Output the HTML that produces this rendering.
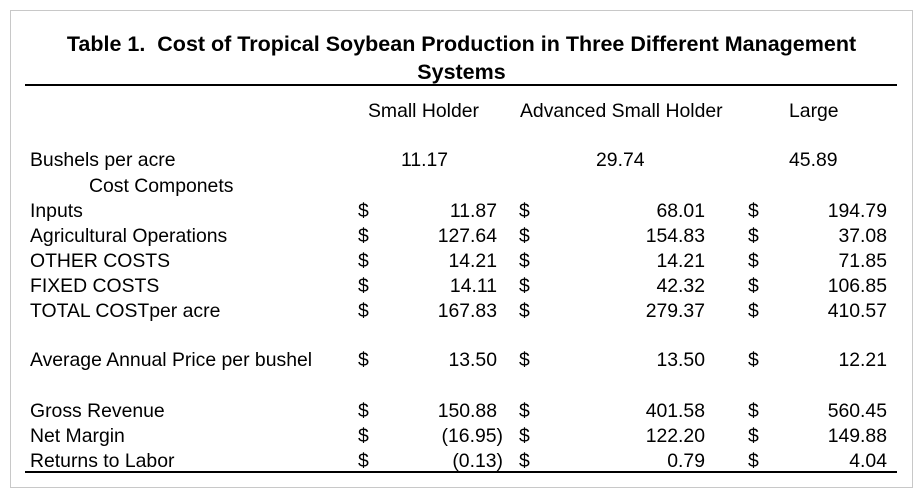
<!DOCTYPE html>
<html><head><meta charset="utf-8"><style>
body{margin:0;width:923px;height:498px;background:#fff;position:relative;overflow:hidden;font-family:"Liberation Sans",Arial,sans-serif;color:#000}
.frame{position:absolute;left:10px;top:10px;width:901px;height:476px;border:1px solid #c8c8c8}
.t{position:absolute;font-size:19.4px;line-height:20px;white-space:nowrap}
.r{text-align:right}
.title{position:absolute;left:0;width:923px;text-align:center;font-weight:bold;font-size:21.5px;line-height:28px}
.hl{position:absolute;left:25px;width:872px;height:2px;background:#000}
</style></head><body>
<div class="frame"></div>
<div class="title" style="top:30px">Table 1.&nbsp; Cost of Tropical Soybean Production in Three Different Management<br>Systems</div>
<div class="hl" style="top:84px"></div>
<div class="hl" style="top:471px"></div>
<div class="t" style="left:368px;top:101px">Small Holder</div>
<div class="t" style="left:520px;top:101px">Advanced Small Holder</div>
<div class="t" style="left:789px;top:101px">Large</div>
<div class="t" style="left:30px;top:150px">Bushels per acre</div>
<div class="t" style="left:401px;top:150px">11.17</div>
<div class="t" style="left:596px;top:150px">29.74</div>
<div class="t" style="left:789px;top:150px">45.89</div>
<div class="t" style="left:89px;top:176px">Cost Componets</div>
<div id="rows"></div>
<script>
const labels=["Inputs","Agricultural Operations","OTHER COSTS","FIXED COSTS","TOTAL COSTper acre","Average Annual Price per bushel","Gross Revenue","Net Margin","Returns to Labor"];
const tops=[201,226,251,276,301,350,401,426,451];
const small=["11.87","127.64","14.21","14.11","167.83","13.50","150.88","(16.95)","(0.13)"];
const adv=["68.01","154.83","14.21","42.32","279.37","13.50","401.58","122.20","0.79"];
const large=["194.79","37.08","71.85","106.85","410.57","12.21","560.45","149.88","4.04"];
const host=document.getElementById('rows');
function add(txt,left,top,right,name){
  const d=document.createElement('div');
  d.className='t'+(right?' r':'');
  d.textContent=txt;
  d.style.top=top+'px';
  if(right){d.style.left=(left-120)+'px';d.style.width='120px';}else d.style.left=left+'px';
  
  
  host.appendChild(d);
}
labels.forEach((l,i)=>{
  const y=tops[i];
  const sm=small[i].startsWith('(');
  add(l,30,y,false,'row-label');
  add('$',358,y,false,'dollar-sign');
  add(small[i],sm?503:497,y,true,'small-holder-value');
  add('$',519,y,false,'dollar-sign');
  add(adv[i],705,y,true,'advanced-value');
  add('$',748,y,false,'dollar-sign');
  add(large[i],887,y,true,'large-value');
});
</script>
</body></html>
